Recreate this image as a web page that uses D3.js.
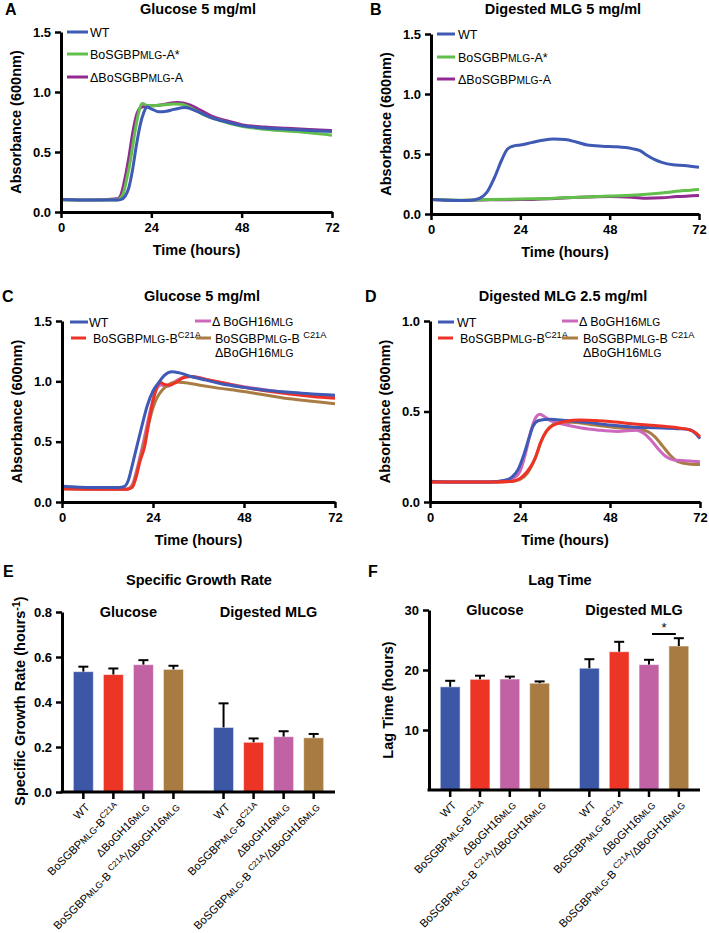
<!DOCTYPE html>
<html>
<head>
<meta charset="utf-8">
<script src="https://cdn.jsdelivr.net/npm/d3@7"></script>
<style>
  body { margin: 0; background: #fff; }
  svg { display: block; }
  text { font-family: "Liberation Sans", Arial, sans-serif; fill: #000; }
</style>
</head>
<body>
<svg id="fig" width="709" height="933"></svg>
<script>
// ---------- data ----------
// growth curves, [time (h), OD600]
var A_WT  = [[0,.105],[8,.1],[15,.1],[16,.105],[17,.13],[18,.2],[19,.35],[20,.55],[21,.72],[22,.83],[22.8,.875],[24,.86],[26,.835],[28,.84],[30,.855],[33,.87],[36,.84],[40,.785],[44,.75],[48,.72],[54,.7],[60,.69],[66,.68],[72,.67]];
var A_Astar = [[0,.1],[8,.1],[15,.1],[15.5,.11],[16.5,.15],[17.5,.28],[18.5,.44],[19.5,.64],[20.5,.81],[21.6,.905],[23,.885],[26,.89],[30,.9],[32,.898],[35,.86],[38,.81],[42,.765],[48,.715],[54,.69],[60,.675],[66,.66],[72,.64]];
var A_dA  = [[0,.105],[8,.1],[15,.11],[16,.15],[17,.28],[18,.45],[19,.65],[20,.8],[21,.865],[22,.88],[26,.89],[31,.912],[34,.895],[37,.85],[40,.8],[44,.76],[48,.728],[54,.708],[60,.697],[66,.687],[72,.678]];

var B_WT  = [[0,.12],[4,.115],[8,.112],[11,.115],[13,.13],[15,.18],[17,.3],[19,.45],[20.5,.54],[22,.565],[24,.575],[27,.595],[30,.615],[33,.625],[36,.62],[39,.6],[42,.575],[46,.565],[50,.56],[54,.545],[56,.53],[58,.49],[60,.455],[62,.43],[65,.41],[68,.405],[72,.39]];
var B_Astar = [[0,.12],[8,.115],[16,.12],[24,.125],[32,.13],[40,.14],[48,.15],[56,.16],[62,.175],[68,.195],[72,.205]];
var B_dA  = [[0,.12],[8,.113],[16,.118],[24,.12],[32,.128],[40,.14],[48,.145],[54,.14],[58,.132],[62,.135],[66,.145],[72,.155]];

var C_WT  = [[0,.13],[8,.12],[15,.12],[16.5,.13],[17.5,.18],[18.5,.3],[19.5,.43],[21,.62],[22.5,.8],[24,.92],[25.5,.99],[27,1.05],[29,1.08],[31,1.07],[34,1.04],[38,1.01],[42,.98],[48,.95],[54,.925],[60,.91],[66,.895],[72,.885]];
var C_B   = [[0,.11],[10,.105],[17,.105],[18.5,.12],[19.5,.2],[20.5,.33],[21.8,.46],[23,.68],[24,.84],[25,.95],[26,.99],[27,.975],[28.4,.97],[30,.99],[32,1.03],[34,1.04],[38,1.015],[42,.99],[48,.95],[54,.92],[60,.895],[66,.875],[72,.86]];
var C_dGH = [[0,.11],[17,.105],[18.5,.14],[20,.3],[21.5,.5],[23,.72],[24.5,.9],[26,.97],[28,.96],[30,1.0],[32,1.035],[34,1.04],[40,1.0],[48,.955],[56,.92],[64,.89],[72,.87]];
var C_BdGH = [[0,.11],[17,.105],[18.5,.13],[19.5,.22],[21,.4],[22.5,.6],[24,.78],[25,.86],[26.5,.93],[28,.97],[30,.995],[32,.99],[36,.97],[40,.95],[48,.915],[54,.885],[60,.855],[66,.835],[72,.815]];

var D_WT  = [[0,.115],[8,.11],[16,.11],[20,.12],[22,.14],[23.5,.18],[25,.26],[26.5,.36],[27.5,.42],[29,.45],[32,.457],[36,.45],[42,.44],[48,.425],[54,.415],[60,.41],[66,.405],[69,.4],[71,.375],[72,.35]];
var D_B   = [[0,.11],[16,.11],[22,.115],[24,.13],[26,.17],[28,.24],[29.5,.33],[31,.39],[33,.425],[36,.445],[40,.453],[44,.45],[48,.445],[54,.432],[60,.422],[66,.41],[69,.4],[71,.38],[72,.36]];
var D_dGH = [[0,.11],[16,.11],[22,.13],[24,.17],[25.5,.27],[27,.4],[28.3,.47],[29.3,.485],[30.3,.475],[32,.45],[35,.432],[40,.41],[45,.397],[50,.39],[55,.397],[57,.38],[59,.34],[61,.29],[63,.25],[65,.232],[68,.228],[72,.223]];
var D_BdGH = [[0,.11],[16,.11],[22,.115],[24,.125],[26,.16],[28,.24],[30,.35],[32,.415],[34,.435],[38,.44],[44,.425],[50,.41],[56,.4],[58,.39],[60,.36],[62,.31],[64,.26],[66,.225],[69,.21],[72,.207]];

var timeTicks = [0, 24, 48, 72];

// bar charts
var barGroups  = ["Glucose", "Digested MLG"];
var barStrains = ["WT", "BoSGBP_{MLG}-B^{C21A}", "ΔBoGH16_{MLG}", "BoSGBP_{MLG}-B ^{C21A}/ΔBoGH16_{MLG}"];
var rateGlucose    = [0.535, 0.522, 0.566, 0.545];
var rateGlucoseErr = [0.022, 0.027, 0.020, 0.016];
var rateMLG        = [0.287, 0.221, 0.246, 0.241];
var rateMLGErr     = [0.107, 0.017, 0.024, 0.017];
var lagGlucose     = [17.2, 18.45, 18.5, 17.8];
var lagGlucoseErr  = [1.0, 0.6, 0.4, 0.3];
var lagMLG         = [20.3, 23.05, 20.9, 24.0];
var lagMLGErr      = [1.5, 1.65, 0.8, 1.3];

var col = {wt:"#3e5ab5", astar:"#62bf4c", da:"#922a90", b:"#ee3326", dgh:"#cc68bd", bdgh:"#a97c44"};
var barCol = ["#3c57a6", "#ec3524", "#c162a5", "#a87b42"];

var svg = d3.select("#fig");

// small markup: _{..} = smaller letters, ^{..} = superscript
function rich(sel, str, fs) {
    var parts = str.split(/(_\{[^}]*\}|\^\{[^}]*\})/).filter(function (s) { return s.length; });
    var shift = 0, small = fs * 0.82;
    parts.forEach(function (p) {
        var t = sel.append("tspan");
        if (p.indexOf("_{") === 0) {
            t.text(p.slice(2, -1)).attr("font-size", small + "px");
            if (shift) { t.attr("dy", shift); shift = 0; }
        } else if (p.indexOf("^{") === 0) {
            t.text(p.slice(2, -1)).attr("font-size", (fs * 0.74) + "px").attr("dy", -fs * 0.38);
            shift = fs * 0.38;
        } else {
            t.text(p);
            if (shift) { t.attr("dy", shift); shift = 0; }
        }
    });
    return sel;
}

function label(x, y, txt, size, bold, anchor) {
    return svg.append("text").attr("x", x).attr("y", y)
        .attr("font-size", size + "px")
        .attr("font-weight", bold ? "bold" : "normal")
        .attr("text-anchor", anchor || "start")
        .text(txt);
}

function ylabel(x, y, str, fs) {
    var t = svg.append("text")
        .attr("transform", "translate(" + x + "," + y + ") rotate(-90)")
        .attr("text-anchor", "middle")
        .attr("font-size", fs + "px").attr("font-weight", "bold");
    rich(t, str, fs);
}

function styleAxis(g) {
    g.select(".domain").attr("stroke", "#000").attr("stroke-width", 3);
    g.selectAll(".tick line").attr("stroke", "#000").attr("stroke-width", 2.5);
    g.selectAll(".tick text").attr("font-size", "13px").attr("font-weight", "bold")
        .attr("font-family", "'Liberation Sans', Arial, sans-serif").attr("fill", "#000");
}

// ---------- growth curve panel ----------
function linePanel(o) {
    var x = d3.scaleLinear().domain([0, 72]).range([o.left, o.right]);
    var y = d3.scaleLinear().domain([0, o.yMax]).range([o.bottom, o.top]);
    var line = d3.line().x(function (d) { return x(d[0]); }).y(function (d) { return y(d[1]); })
        .curve(d3.curveMonotoneX);

    o.series.forEach(function (s) {
        svg.append("path").datum(s.data).attr("d", line)
            .attr("fill", "none").attr("stroke", s.color).attr("stroke-width", 3)
            .attr("stroke-linejoin", "round");
    });

    var gx = svg.append("g").attr("transform", "translate(0," + o.bottom + ")")
        .call(d3.axisBottom(x).tickValues(timeTicks).tickSize(6).tickSizeOuter(0).tickPadding(5));
    styleAxis(gx);
    var gy = svg.append("g").attr("transform", "translate(" + o.left + ",0)")
        .call(d3.axisLeft(y).tickValues(o.yTicks).tickFormat(d3.format(".1f")).tickSize(6).tickSizeOuter(0).tickPadding(4));
    styleAxis(gy);

    label(o.title[1], o.title[2], o.title[0], 14.5, true, "middle");
    label(o.letter[1], o.letter[2], o.letter[0], 16, true);
    label((o.left + o.right) / 2, o.bottom + 43, "Time (hours)", 14.5, true, "middle");
    ylabel(o.left - 40, (o.top + o.bottom) / 2, "Absorbance (600nm)", 14.5);

    o.legend.forEach(function (l) {
        svg.append("line").attr("x1", l.x0).attr("x2", l.x1).attr("y1", l.y).attr("y2", l.y)
            .attr("stroke", l.color).attr("stroke-width", 3);
        l.text.forEach(function (str, i) {
            var t = svg.append("text").attr("x", l.tx).attr("y", l.y + 4.5 + i * 14.5)
                .attr("font-size", "12.5px");
            rich(t, str, 12.5);
        });
    });
}

linePanel({
    left: 61, right: 332, top: 32, bottom: 212, yMax: 1.5, yTicks: [0, 0.5, 1, 1.5],
    title: ["Glucose 5 mg/ml", 198, 14], letter: ["A", 5, 15],
    series: [{data: A_dA, color: col.da}, {data: A_Astar, color: col.astar}, {data: A_WT, color: col.wt}],
    legend: [
        {x0: 67, x1: 88, tx: 90, y: 32, color: col.wt, text: ["WT"]},
        {x0: 67, x1: 88, tx: 90, y: 54, color: col.astar, text: ["BoSGBP_{MLG}-A*"]},
        {x0: 67, x1: 88, tx: 90, y: 77, color: col.da, text: ["ΔBoSGBP_{MLG}-A"]}
    ]
});

linePanel({
    left: 431, right: 699, top: 34, bottom: 214, yMax: 1.5, yTicks: [0, 0.5, 1, 1.5],
    title: ["Digested MLG 5 mg/ml", 563, 14], letter: ["B", 370, 15],
    series: [{data: B_dA, color: col.da}, {data: B_Astar, color: col.astar}, {data: B_WT, color: col.wt}],
    legend: [
        {x0: 437, x1: 455, tx: 458, y: 34, color: col.wt, text: ["WT"]},
        {x0: 437, x1: 455, tx: 458, y: 57, color: col.astar, text: ["BoSGBP_{MLG}-A*"]},
        {x0: 437, x1: 455, tx: 458, y: 79, color: col.da, text: ["ΔBoSGBP_{MLG}-A"]}
    ]
});

linePanel({
    left: 62, right: 335, top: 321, bottom: 502, yMax: 1.5, yTicks: [0, 0.5, 1, 1.5],
    title: ["Glucose 5 mg/ml", 202, 301], letter: ["C", 2, 302],
    series: [{data: C_dGH, color: col.dgh}, {data: C_BdGH, color: col.bdgh}, {data: C_B, color: col.b}, {data: C_WT, color: col.wt}],
    legend: [
        {x0: 70, x1: 88, tx: 89, y: 322, color: col.wt, text: ["WT"]},
        {x0: 71, x1: 86, tx: 93, y: 338, color: col.b, text: ["BoSGBP_{MLG}-B^{C21A}"]},
        {x0: 195, x1: 211, tx: 212, y: 321, color: col.dgh, text: ["Δ BoGH16_{MLG}"]},
        {x0: 196, x1: 211, tx: 215, y: 338, color: col.bdgh, text: ["BoSGBP_{MLG}-B ^{C21A}", "ΔBoGH16_{MLG}"]}
    ]
});

linePanel({
    left: 430, right: 700, top: 321, bottom: 502, yMax: 1.0, yTicks: [0, 0.5, 1],
    title: ["Digested MLG 2.5 mg/ml", 563, 301], letter: ["D", 365, 302],
    series: [{data: D_BdGH, color: col.bdgh}, {data: D_dGH, color: col.dgh}, {data: D_WT, color: col.wt}, {data: D_B, color: col.b}],
    legend: [
        {x0: 438, x1: 454, tx: 457, y: 322, color: col.wt, text: ["WT"]},
        {x0: 438, x1: 453, tx: 460, y: 338, color: col.b, text: ["BoSGBP_{MLG}-B^{C21A}"]},
        {x0: 562, x1: 578, tx: 579, y: 321, color: col.dgh, text: ["Δ BoGH16_{MLG}"]},
        {x0: 562, x1: 578, tx: 583, y: 338, color: col.bdgh, text: ["BoSGBP_{MLG}-B ^{C21A}", "ΔBoGH16_{MLG}"]}
    ]
});

// ---------- bar panel ----------
function barPanel(o) {
    var y = d3.scaleLinear().domain([0, o.yMax]).range([o.bottom, o.top]);
    var gx = d3.scaleBand().domain(barGroups).range([o.left, o.right]).paddingInner(0.143).paddingOuter(0.045);
    var sx = d3.scaleBand().domain(d3.range(barStrains.length)).range([0, gx.bandwidth()]).paddingInner(1 / 3).paddingOuter(1 / 6);

    var rows = [];
    barGroups.forEach(function (g, gi) {
        o.values[gi].forEach(function (v, i) {
            rows.push({group: g, i: i, v: v, e: o.errors[gi][i]});
        });
    });
    function cx(d) { return gx(d.group) + sx(d.i) + sx.bandwidth() / 2; }

    svg.append("g").selectAll("rect").data(rows).enter().append("rect")
        .attr("x", function (d) { return gx(d.group) + sx(d.i); })
        .attr("y", function (d) { return y(d.v); })
        .attr("width", sx.bandwidth())
        .attr("height", function (d) { return y(0) - y(d.v); })
        .attr("fill", function (d) { return barCol[d.i]; })
        .attr("stroke", "#fff").attr("stroke-opacity", 0.55).attr("stroke-width", 1);

    var eb = svg.append("g").attr("stroke", "#000").attr("stroke-width", 2);
    eb.selectAll(".v").data(rows).enter().append("line")
        .attr("x1", cx).attr("x2", cx)
        .attr("y1", function (d) { return y(d.v); })
        .attr("y2", function (d) { return y(d.v + d.e); });
    eb.selectAll(".c").data(rows).enter().append("line")
        .attr("x1", function (d) { return cx(d) - 5; }).attr("x2", function (d) { return cx(d) + 5; })
        .attr("y1", function (d) { return y(d.v + d.e); })
        .attr("y2", function (d) { return y(d.v + d.e); });

    // axes
    var gy = svg.append("g").attr("transform", "translate(" + o.left + ",0)")
        .call(d3.axisLeft(y).tickValues(o.yTicks).tickFormat(o.fmt).tickSize(6).tickSizeOuter(0).tickPadding(4));
    styleAxis(gy);
    svg.append("line").attr("x1", o.left - 1.5).attr("x2", o.right).attr("y1", o.bottom).attr("y2", o.bottom)
        .attr("stroke", "#000").attr("stroke-width", 3);
    svg.append("g").selectAll("line").data(rows).enter().append("line")
        .attr("x1", cx).attr("x2", cx).attr("y1", o.bottom).attr("y2", o.bottom + 7)
        .attr("stroke", "#000").attr("stroke-width", 2.5);

    rows.forEach(function (d) {
        var t = svg.append("text")
            .attr("transform", "translate(" + (cx(d) + 7) + "," + (o.bottom + 16) + ") rotate(-45)")
            .attr("text-anchor", "end").attr("font-size", "11.2px");
        rich(t, barStrains[d.i], 11.2);
    });

    barGroups.forEach(function (g) {
        label(gx(g) + gx.bandwidth() / 2, o.top + 5, g, 14.5, true, "middle");
    });
    label(o.title[1], o.title[2], o.title[0], 14.5, true, "middle");
    label(o.letter[1], o.letter[2], o.letter[0], 16, true);
    ylabel(o.ylab[1], o.ylab[2], o.ylab[0], 14.5);

    if (o.sig) {
        var s = o.sig, x1 = gx(s.group) + sx(s.from) + sx.bandwidth() / 2 + 3, x2 = gx(s.group) + sx(s.to) + sx.bandwidth() / 2 - 3;
        svg.append("line").attr("x1", x1).attr("x2", x2).attr("y1", y(s.level)).attr("y2", y(s.level))
            .attr("stroke", "#000").attr("stroke-width", 2);
        label((x1 + x2) / 2, y(s.level) - 2, s.text, 13, false, "middle");
    }
}

barPanel({
    left: 62, right: 335, top: 612, bottom: 792, yMax: 0.8, yTicks: [0, 0.2, 0.4, 0.6, 0.8], fmt: d3.format(".1f"),
    values: [rateGlucose, rateMLG], errors: [rateGlucoseErr, rateMLGErr],
    title: ["Specific Growth Rate", 199, 585], letter: ["E", 3, 577],
    ylab: ["Specific Growth Rate (hours^{-1})", 25, 701]
});

barPanel({
    left: 429, right: 700, top: 610, bottom: 790, yMax: 30, yTicks: [10, 20, 30], fmt: d3.format("d"),
    values: [lagGlucose, lagMLG], errors: [lagGlucoseErr, lagMLGErr],
    title: ["Lag Time", 560, 585], letter: ["F", 368, 577],
    ylab: ["Lag Time (hours)", 393, 700],
    sig: {group: "Digested MLG", from: 2, to: 3, level: 26, text: "*"}
});
</script>
</body>
</html>
